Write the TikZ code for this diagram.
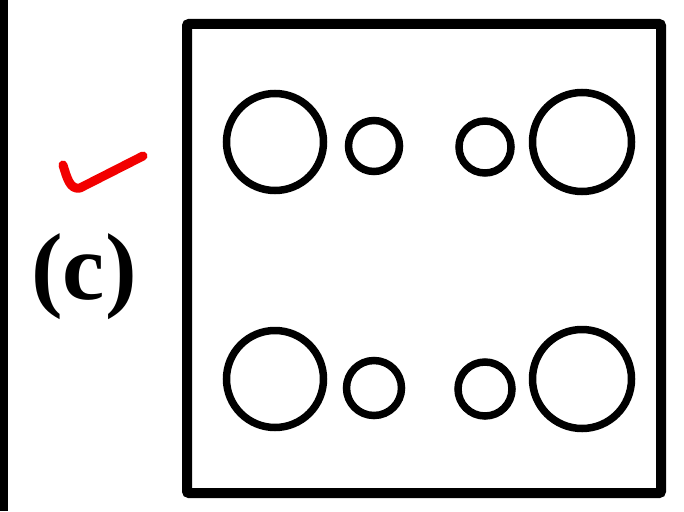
\documentclass[tikz,border=0pt]{standalone}
\usepackage{fontspec}
\newfontfamily\labfont{Liberation Serif}
\begin{document}
\begin{tikzpicture}[x=1pt,y=-1pt,
  ring/.style={circle,draw=black,line width=7.5pt,inner sep=0pt,minimum size=#1},
  frame/.style={draw=black,line width=10pt,rounded corners=2pt}]
\useasboundingbox (0,0) rectangle (684,511);
\fill[black] (0,0) rectangle (8,511);
\draw[frame] (187,24) rectangle (661,493);
% top row
\node[ring=97pt] (tl1) at (275,142) {};
\node[ring=51pt] (tl2) at (374,146) {};
\node[ring=52pt] (tr2) at (485,147) {};
\node[ring=99pt] (tr1) at (582,142) {};
% bottom row
\node[ring=97pt] (bl1) at (275,379) {};
\node[ring=55pt] (bl2) at (374,388) {};
\node[ring=54pt] (br2) at (485,389) {};
\node[ring=99pt] (br1) at (582,379) {};
% label
\node[font=\labfont\fontsize{95}{95}\selectfont\bfseries,inner sep=0pt] (lab) at (84,277) {(c)};
% red check mark
\draw[red!95!black,line width=9pt,line cap=round,line join=round]
  (63,165) .. controls (67,178) and (70,190) .. (80,188) -- (143,156);
\end{tikzpicture}
\end{document}
